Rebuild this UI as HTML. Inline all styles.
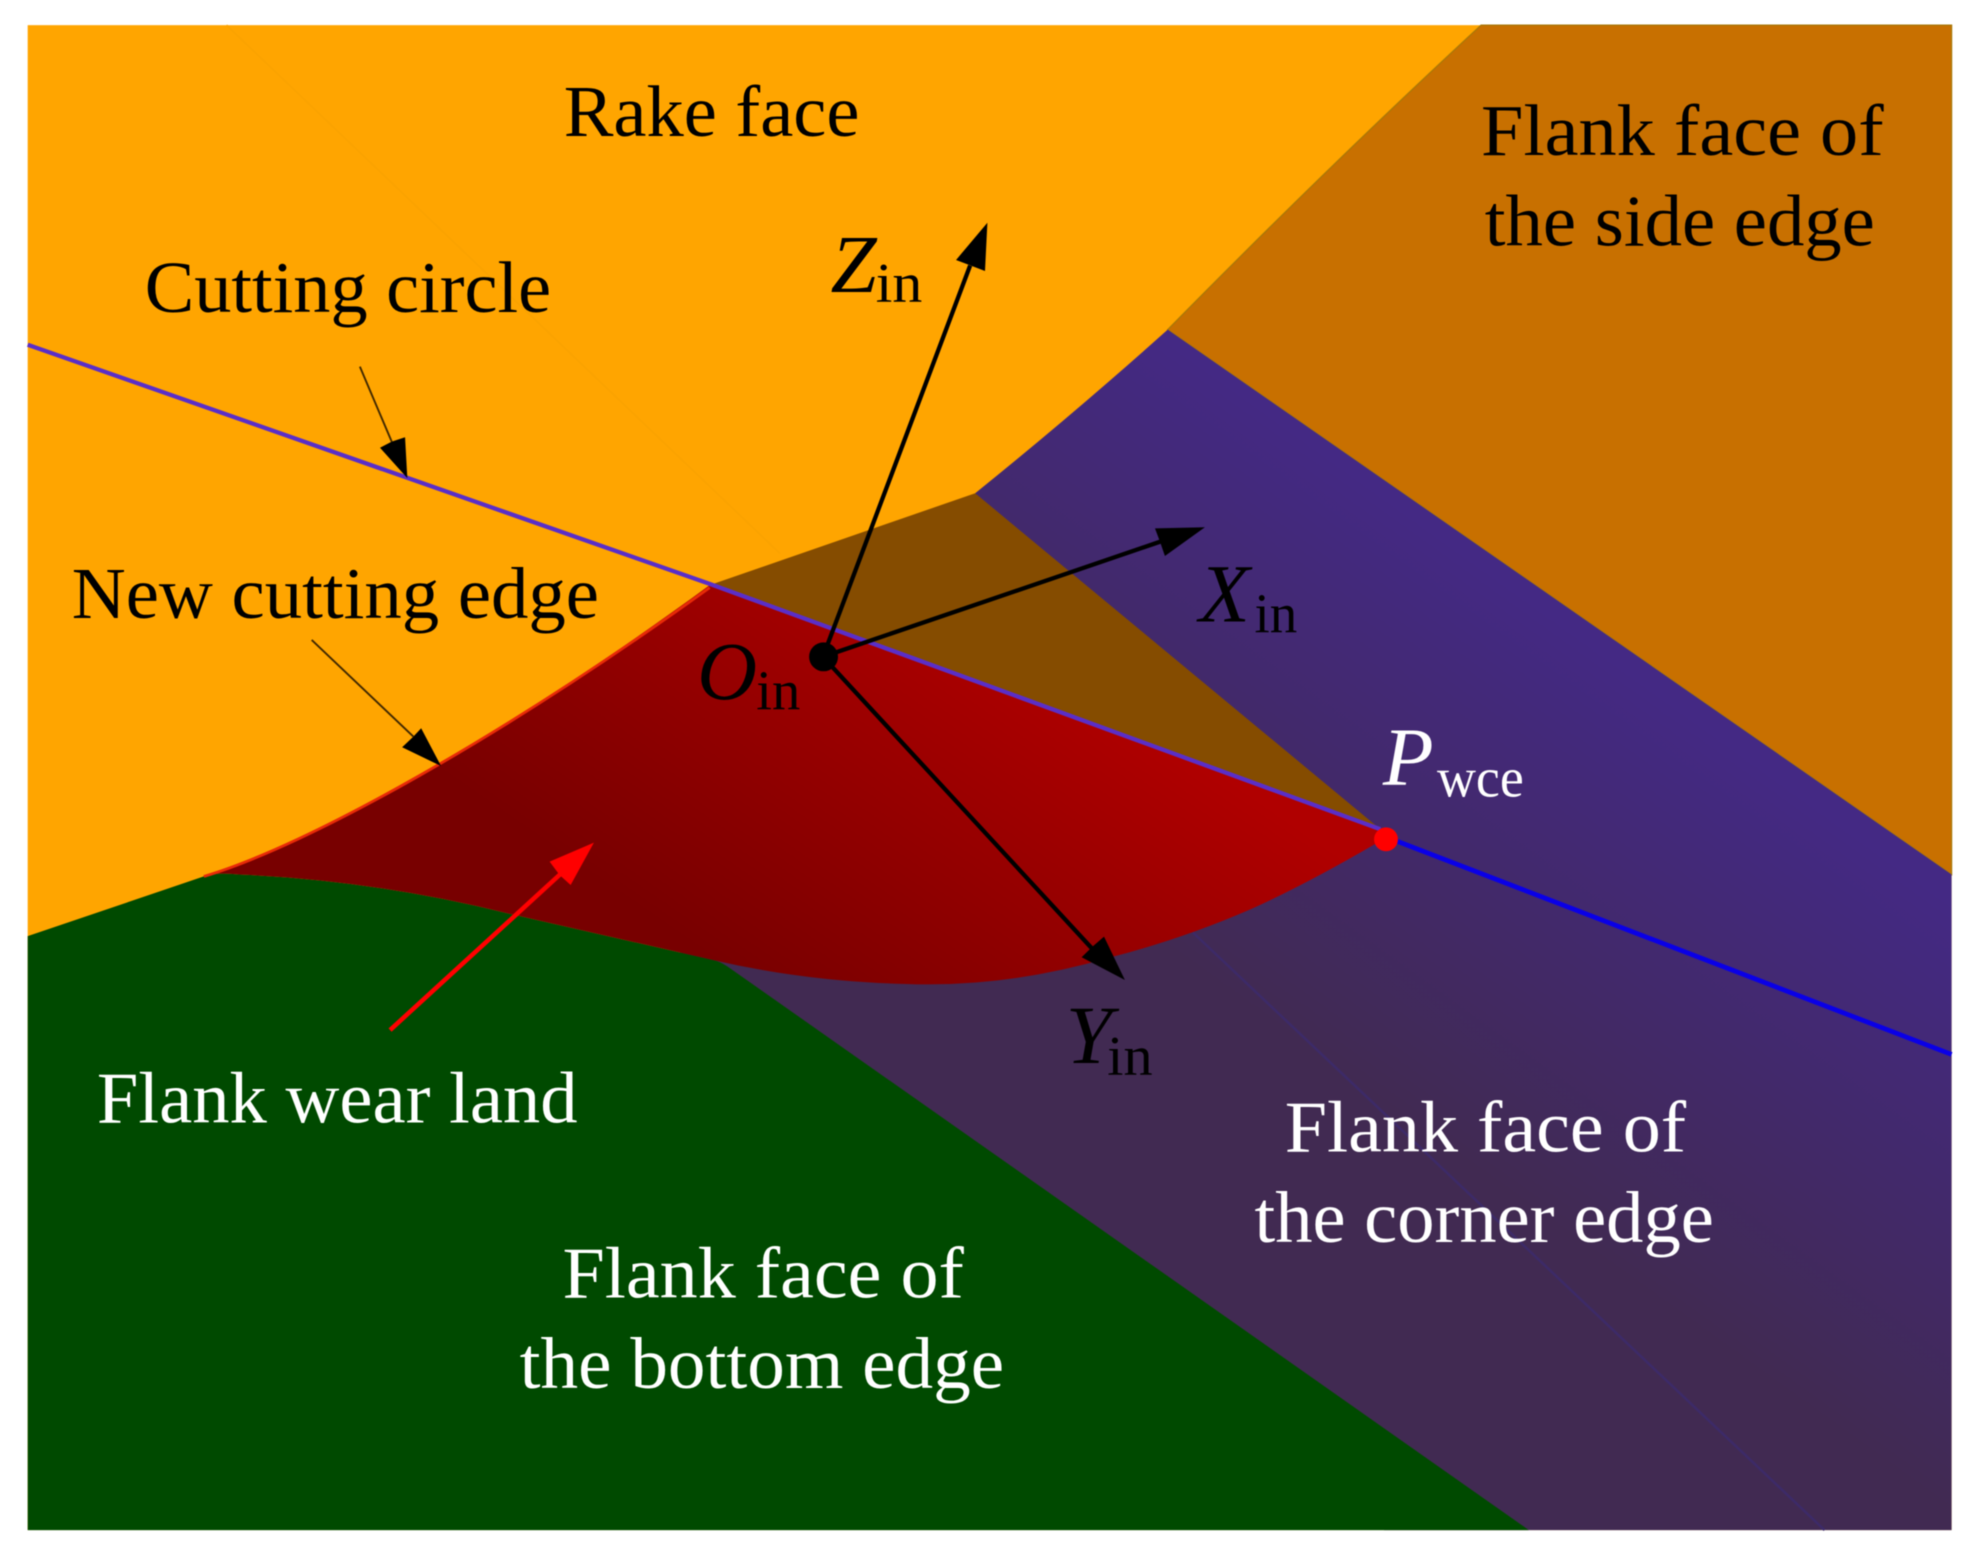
<!DOCTYPE html>
<html><head><meta charset="utf-8"><style>html,body{margin:0;padding:0;background:#fff}svg{display:block;filter:blur(0.6px)}text{font-family:"Liberation Serif",serif;font-size:58px}.i{font-style:italic;font-size:66px}.s{font-size:45px}</style></head><body>
<svg width="1973" height="1558" viewBox="0 0 1568 1238.2" xmlns="http://www.w3.org/2000/svg">
<defs>
<linearGradient id="r" gradientUnits="userSpaceOnUse" x1="560" y1="760" x2="760" y2="470"><stop offset="0" stop-color="#780000"/><stop offset="1" stop-color="#b00000"/></linearGradient>
<linearGradient id="p" gradientUnits="userSpaceOnUse" x1="1330" y1="560" x2="1100" y2="880"><stop offset="0" stop-color="#442984"/><stop offset="1" stop-color="#412a52"/></linearGradient>
</defs>
<rect x="22" y="20" width="1529" height="1196" fill="#ffa500"/>
<path d="M180 20L620 440" stroke="#fba300" stroke-width="1.5" fill="none"/>
<path d="M1177 20H1551V695L928 262Q1058 130 1177 20Z" fill="#c87000" stroke="#a87808" stroke-width="1"/>
<path d="M928 262L1551 695V1216H1100L520 790L775 392Q852 330 928 262Z" fill="url(#p)"/>
<path d="M948 741L1450 1216" stroke="#3d2a68" stroke-width="2" fill="none"/>
<path d="M775 392L1097 659L564 465Z" fill="#854c00"/>
<path d="M22 744L162 696.5Q172 693 190 695Q300 700 404 726L567 763Q572 764 578 768L1215 1216H22Z" fill="#004a00"/>
<path d="M564 465L1097 659L1101 666Q1040 702 993 723Q940 746 882 761Q800 785 720 782Q640 780 567 763L404 726Q300 700 190 695Q172 693 162 696.5C245 672 400 585 564 465Z" fill="url(#r)"/>
<path d="M162 696.5C245 672 400 585 564 467" fill="none" stroke="#e82a08" stroke-width="2.2"/>
<path d="M22 274L564 464L1097 659" stroke="#5a2ec8" stroke-width="3.4" fill="none"/>
<path d="M1101 665L1551 838" stroke="#0a00e6" stroke-width="3.8" fill="none"/>
<circle cx="1101.5" cy="667" r="9.5" fill="#ff0000"/>
<g stroke="#000" fill="none">
<path d="M654 522L771 211M654 522L922 430.5M654 522L868 754" stroke-width="3.4"/>
<path d="M286 291.4L311.3 351M247.7 508.6L328.5 585.4" stroke-width="1.5" stroke="#402800"/>
</g>
<circle cx="654.5" cy="522" r="11.5"/>
<path d="M784.7 177L782.8 215.4L771.4 211L759.8 206.6ZM957.6 419L925.8 441.9L921.9 430.5L917.9 419.9ZM894 778.8L859.6 760.8L868 752.5L877.4 744.4ZM323.7 380L302 355.8L311.3 351L321.9 347.5ZM350.5 608.8L319.6 593.9L328.5 585.4L334.7 578.8Z"/>
<path d="M310 818.6L445 695" stroke="#ff0000" stroke-width="3.6" fill="none"/>
<path d="M472 669.7L453.5 703.3L444.7 695.4L436.8 684.8Z" fill="#ff0000"/>
<g fill="#000">
<text x="448" y="108" textLength="235" lengthAdjust="spacingAndGlyphs">Rake face</text>
<text x="1177" y="123" textLength="320" lengthAdjust="spacingAndGlyphs">Flank face of</text>
<text x="1180" y="195" textLength="310" lengthAdjust="spacingAndGlyphs">the side edge</text>
<text x="115" y="248" textLength="323" lengthAdjust="spacingAndGlyphs">Cutting circle</text>
<text x="57" y="491" textLength="419" lengthAdjust="spacingAndGlyphs">New cutting edge</text>
<text x="660" y="232" class="i">Z</text>
<text x="696" y="240" class="s" textLength="37" lengthAdjust="spacingAndGlyphs">in</text>
<text x="953" y="494" class="i">X</text>
<text x="997" y="502.5" class="s" textLength="34" lengthAdjust="spacingAndGlyphs">in</text>
<text x="554" y="555.5" class="i">O</text>
<text x="601" y="564" class="s" textLength="35" lengthAdjust="spacingAndGlyphs">in</text>
<text x="847" y="845" class="i">Y</text>
<text x="880" y="854.5" class="s" textLength="36" lengthAdjust="spacingAndGlyphs">in</text>
</g>
<g fill="#fff">
<text x="1099" y="624" class="i">P</text>
<text x="1142" y="633" class="s" textLength="69" lengthAdjust="spacingAndGlyphs">wce</text>
<text x="77" y="892" textLength="382" lengthAdjust="spacingAndGlyphs">Flank wear land</text>
<text x="1021" y="915" textLength="319" lengthAdjust="spacingAndGlyphs">Flank face of</text>
<text x="997" y="987" textLength="365" lengthAdjust="spacingAndGlyphs">the corner edge</text>
<text x="447" y="1031" textLength="319" lengthAdjust="spacingAndGlyphs">Flank face of</text>
<text x="413" y="1103" textLength="385" lengthAdjust="spacingAndGlyphs">the bottom edge</text>
</g>
</svg>
</body></html>
